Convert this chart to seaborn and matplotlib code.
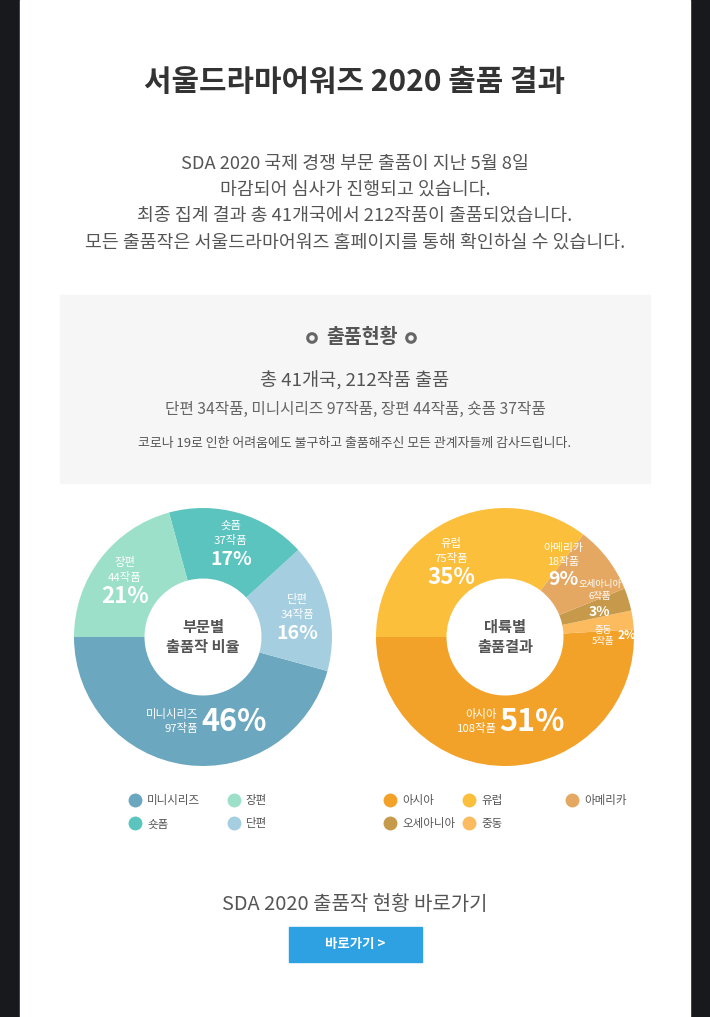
import numpy as np
import matplotlib
matplotlib.use("Agg")
import matplotlib.pyplot as plt
import seaborn as sns
from matplotlib.patches import Rectangle, Circle
from matplotlib.lines import Line2D

sns.set_theme(style="white")
plt.rcParams["font.family"] = ["Noto Sans CJK KR", "DejaVu Sans"]

W, H = 710, 1017

# 부문별 (pie order: from 9 o'clock, counter-clockwise)
genre_names = ["미니시리즈", "단편", "숏폼", "장편"]
genre_counts = [97, 34, 37, 44]
genre_pcts = [46, 16, 17, 21]
genre_colors = sns.color_palette(["#6ba7bf", "#a5cee0", "#5bc4be", "#9de0c9"])
genre_legend = ["미니시리즈", "숏폼", "장편", "단편"]

# 대륙별
region_names = ["아시아", "중동", "오세아니아", "아메리카", "유럽"]
region_counts = [108, 5, 6, 18, 75]
region_pcts = [51, 2, 3, 9, 35]
region_colors = sns.color_palette(["#f2a229", "#fdbb5f", "#c79a4b", "#e4a862", "#fcbf3b"])
region_legend_a = ["아시아", "오세아니아", "유럽", "중동"]
region_legend_b = ["아메리카"]

intro_lines = [
    "SDA 2020 국제 경쟁 부문 출품이 지난 5월 8일",
    "마감되어 심사가 진행되고 있습니다.",
    "최종 집계 결과 총 41개국에서 212작품이 출품되었습니다.",
    "모든 출품작은 서울드라마어워즈 홈페이지를 통해 확인하실 수 있습니다.",
]

GRAY = "#555555"
PT = 0.72  # points per pixel at dpi 100

fig = plt.figure(figsize=(W / 100, H / 100), dpi=100, facecolor="#18191c")
bg = fig.add_axes([0, 0, 1, 1])
bg.set_xlim(0, W)
bg.set_ylim(H, 0)
bg.axis("off")
bg.add_patch(Rectangle((20, 0), 670, H, color="white", zorder=0))
bg.add_patch(Rectangle((60, 295), 590, 188, color="#f6f6f6", zorder=1))

bg.text(355, 82, "서울드라마어워즈 2020 출품 결과", ha="center", va="center",
        fontsize=21.5, fontweight="bold", color="#333333")
for y, line in zip([164, 190, 216, 243], intro_lines):
    bg.text(355, y, line, ha="center", va="center", fontsize=13.2, color=GRAY)

bg.text(362, 337, "출품현황", ha="center", va="center", fontsize=14,
        fontweight="bold", color=GRAY, zorder=3)
for x in [312, 411]:
    bg.add_patch(Circle((x, 338), 4.3, fill=False, lw=2.2, ec="#666666", zorder=3))
bg.text(355, 381, "총 41개국, 212작품 출품", ha="center", va="center",
        fontsize=13.4, color=GRAY, zorder=3)
bg.text(355, 409, "단편 34작품, 미니시리즈 97작품, 장편 44작품, 숏폼 37작품",
        ha="center", va="center", fontsize=11.3, color="#666666", zorder=3)
bg.text(355, 444, "코로나 19로 인한 어려움에도 불구하고 출품해주신 모든 관계자들께 감사드립니다.",
        ha="center", va="center", fontsize=9.3, color=GRAY, zorder=3)

bg.text(355, 905, "SDA 2020 출품작 현황 바로가기", ha="center", va="center",
        fontsize=14.4, color=GRAY)
bg.add_patch(Rectangle((289, 927), 133, 35, color="#2ea1e2", zorder=1))
bg.text(355, 944, "바로가기 >", ha="center", va="center", fontsize=9.7,
        fontweight="bold", color="white", zorder=3)

R = 129
HOLE = 58.5


def donut(cx, cy, counts, colors, center_text):
    ax = fig.add_axes([(cx - R) / W, 1 - (cy + R) / H, 2 * R / W, 2 * R / H])
    wedges, _ = ax.pie(counts, colors=colors, startangle=180, counterclock=True,
                       radius=1, wedgeprops=dict(width=1 - HOLE / R, linewidth=0))
    ax.set_xlim(-1, 1)
    ax.set_ylim(-1, 1)
    ax.text(0, 0, center_text, ha="center", va="center", fontsize=11,
            fontweight="bold", color=GRAY, linespacing=1.3)
    return ax, wedges


def stack_label(ax, w, name, count, pct, r_px, pct_size, small=8.2, nudge=0, dy=(15, 19)):
    t = np.deg2rad((w.theta1 + w.theta2) / 2 + nudge)
    xy = (r_px / R * np.cos(t), r_px / R * np.sin(t))
    kw = dict(xy=xy, textcoords="offset points", ha="center", va="center", color="white")
    ax.annotate(name, xytext=(0, dy[0] * PT), fontsize=small, **kw)
    ax.annotate(f"{count}작품", xytext=(0, 0), fontsize=small, **kw)
    ax.annotate(f"{pct}%", xytext=(0, -dy[1] * PT), fontsize=pct_size, fontweight="bold", **kw)


def side_label(ax, w, name, count, pct, r_px, pct_size, small=8.2, nudge=0):
    t = np.deg2rad((w.theta1 + w.theta2) / 2 + nudge)
    xy = (r_px / R * np.cos(t), r_px / R * np.sin(t))
    kw = dict(xy=xy, textcoords="offset points", va="center", color="white")
    ax.annotate(name, xytext=(-2 * PT, 7 * PT), ha="right", fontsize=small, **kw)
    ax.annotate(f"{count}작품", xytext=(-2 * PT, -7 * PT), ha="right", fontsize=small, **kw)
    ax.annotate(f"{pct}%", xytext=(1 * PT, 0), ha="left", fontsize=pct_size,
                fontweight="bold", **kw)


# 부문별 donut
ax1, w1 = donut(203, 637, genre_counts, genre_colors, "부문별\n출품작 비율")
side_label(ax1, w1[0], genre_names[0], genre_counts[0], genre_pcts[0], 85, 22, nudge=6)
stack_label(ax1, w1[1], genre_names[1], genre_counts[1], genre_pcts[1], 97, 14)
stack_label(ax1, w1[2], genre_names[2], genre_counts[2], genre_pcts[2], 100, 14)
stack_label(ax1, w1[3], genre_names[3], genre_counts[3], genre_pcts[3], 98, 16)

# 대륙별 donut
ax2, w2 = donut(505, 637, region_counts, region_colors, "대륙별\n출품결과")
side_label(ax2, w2[0], region_names[0], region_counts[0], region_pcts[0], 85, 22, nudge=-6)
# 중동: name/count stacked, pct to the right
t = np.deg2rad((w2[1].theta1 + w2[1].theta2) / 2 - 6.5)
xy = (98 / R * np.cos(t), 98 / R * np.sin(t))
kw = dict(xy=xy, textcoords="offset points", va="center", color="white")
ax2.annotate(region_names[1], xytext=(0, 5 * PT), ha="center", fontsize=6.8, **kw)
ax2.annotate(f"{region_counts[1]}작품", xytext=(0, -6 * PT), ha="center", fontsize=6.8, **kw)
ax2.annotate(f"{region_pcts[1]}%", xytext=(15 * PT, 0), ha="left", fontsize=8.5,
             fontweight="bold", **kw)
stack_label(ax2, w2[2], region_names[2], region_counts[2], region_pcts[2], 103, 10,
            small=6.8, nudge=6, dy=(12, 15))
stack_label(ax2, w2[3], region_names[3], region_counts[3], region_pcts[3], 95, 14,
            small=7.8, nudge=15, dy=(14, 18))
stack_label(ax2, w2[4], region_names[4], region_counts[4], region_pcts[4], 95, 16, nudge=8)


def legend_at(names, all_names, colors, x, y, ncol, spacing):
    lut = dict(zip(all_names, colors))
    handles = [Line2D([], [], ls="none", marker="o", markersize=10, markeredgewidth=0,
                      color=lut[n], label=n) for n in names]
    leg = fig.legend(handles=handles, loc="upper left", bbox_to_anchor=(x / W, 1 - y / H),
                     ncol=ncol, frameon=False, fontsize=8.3, handlelength=1.2,
                     handletextpad=0.45, columnspacing=spacing, labelspacing=0.9,
                     borderpad=0, borderaxespad=0)
    for txt in leg.get_texts():
        txt.set_color(GRAY)


legend_at(genre_legend, genre_names, genre_colors, 128, 794, 2, 2.3)
legend_at(region_legend_a, region_names, region_colors, 383, 794, 2, 0.6)
legend_at(region_legend_b, region_names, region_colors, 565, 794, 1, 1)

fig.savefig("out.png", dpi=100, facecolor=fig.get_facecolor())
